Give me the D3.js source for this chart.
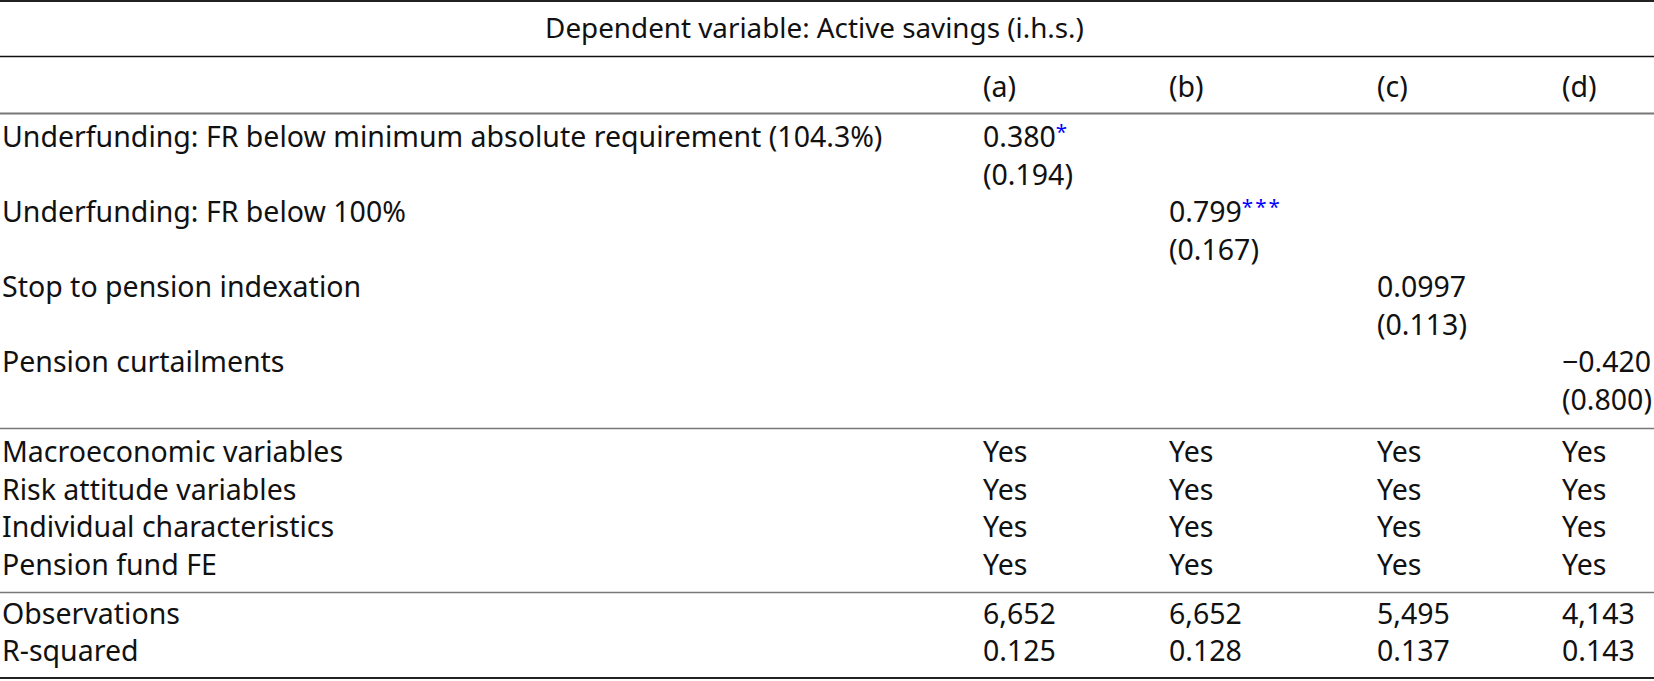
<!DOCTYPE html>
<html>
<head>
<meta charset="utf-8">
<script src="https://cdn.jsdelivr.net/npm/d3@7"></script>
<style>
  body { margin: 0; background: #fff; }
  svg text { font-family: "Noto Sans", sans-serif; fill: #111; }
</style>
</head>
<body>
<div id="table"></div>
<script>
// table contents
const depVar = "Dependent variable: Active savings (i.h.s.)";
const columns = ["(a)", "(b)", "(c)", "(d)"];
const coefLabels = [
    "Underfunding: FR below minimum absolute requirement (104.3%)",
    "Underfunding: FR below 100%",
    "Stop to pension indexation",
    "Pension curtailments"
];
const coefValues = [0.380, 0.799, 0.0997, -0.420];
const coefSE = [0.194, 0.167, 0.113, 0.800];
const coefStars = ["*", "***", "", ""];
const controlLabels = [
    "Macroeconomic variables",
    "Risk attitude variables",
    "Individual characteristics",
    "Pension fund FE"
];
const controlValue = "Yes";
const statLabels = ["Observations", "R-squared"];
const observations = [6652, 6652, 5495, 4143];
const rSquared = [0.125, 0.128, 0.137, 0.143];

function table(id) {
    const width = 1654;
    const height = 681;
    const fontSize = 28.5;
    const lineStep = 37.5;

    const svg = d3.select(id).append("svg")
        .attr("width", width)
        .attr("height", height)
        .attr("viewBox", [0, 0, width, height]);

    // column positions (left aligned cells)
    const x = d3.scaleOrdinal(columns, [983, 1169, 1377, 1562]);
    const labelX = 2;

    const fmtCoef = d3.format(".3r");
    const fmtSE = d3.format(".3f");
    const fmtObs = d3.format(",");
    const fmtR2 = d3.format(".3f");

    // rules
    const rules = [
        {y: 1, w: 2, c: "#222"},
        {y: 56.5, w: 1.3, c: "#111"},
        {y: 113.5, w: 2, c: "#777"},
        {y: 428.5, w: 1.6, c: "#777"},
        {y: 592.5, w: 1.6, c: "#777"},
        {y: 678, w: 2, c: "#222"}
    ];
    svg.append("g").selectAll("line")
        .data(rules)
        .join("line")
            .attr("x1", 0).attr("x2", width)
            .attr("y1", d => d.y).attr("y2", d => d.y)
            .attr("stroke", d => d.c)
            .attr("stroke-width", d => d.w);

    const g = svg.append("g").attr("font-size", fontSize);

    // header
    g.append("text")
        .attr("x", 814.5)
        .attr("y", 38)
        .attr("font-size", 27.8)
        .attr("text-anchor", "middle")
        .text(depVar);

    g.selectAll(".colhead")
        .data(columns)
        .join("text")
            .attr("class", "colhead")
            .attr("x", d => x(d))
            .attr("y", 97)
            .text(d => d);

    // coefficient rows
    const coefY = d3.scaleLinear().domain([0, 1]).range([147, 147 + 2 * lineStep]);

    g.selectAll(".coeflabel")
        .data(coefLabels)
        .join("text")
            .attr("class", "coeflabel")
            .attr("x", labelX)
            .attr("y", (d, i) => coefY(i))
            .text(d => d);

    const est = g.selectAll(".coef")
        .data(coefValues)
        .join("text")
            .attr("class", "coef")
            .attr("x", (d, i) => x(columns[i]))
            .attr("y", (d, i) => coefY(i));
    est.append("tspan").text(d => fmtCoef(d));
    est.append("tspan")
        .attr("dy", -8)
        .attr("font-size", fontSize * 0.72)
        .attr("letter-spacing", 2)
        .style("fill", "#0000ff")
        .text((d, i) => coefStars[i]);

    g.selectAll(".se")
        .data(coefSE)
        .join("text")
            .attr("class", "se")
            .attr("x", (d, i) => x(columns[i]))
            .attr("y", (d, i) => coefY(i) + lineStep)
            .text(d => "(" + fmtSE(d) + ")");

    // control rows
    const ctrlY = d3.scaleLinear().domain([0, 1]).range([462, 462 + lineStep]);
    controlLabels.forEach((label, i) => {
        g.append("text").attr("x", labelX).attr("y", ctrlY(i)).text(label);
        g.selectAll(null)
            .data(columns)
            .join("text")
                .attr("x", d => x(d))
                .attr("y", ctrlY(i))
                .text(controlValue);
    });

    // statistics
    const statY = d3.scaleLinear().domain([0, 1]).range([623.5, 623.5 + lineStep]);
    const statValues = [observations.map(fmtObs), rSquared.map(fmtR2)];
    statLabels.forEach((label, i) => {
        g.append("text").attr("x", labelX).attr("y", statY(i)).text(label);
        g.selectAll(null)
            .data(statValues[i])
            .join("text")
                .attr("x", (d, j) => x(columns[j]))
                .attr("y", statY(i))
                .text(d => d);
    });

    return svg.node();
}

table("#table");
</script>
</body>
</html>
